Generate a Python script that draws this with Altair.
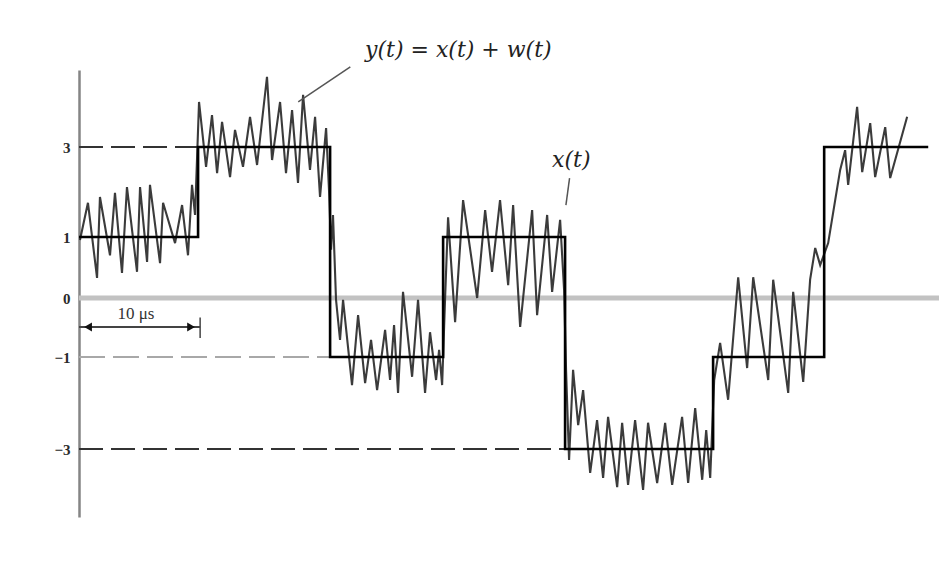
import altair as alt
import pandas as pd

# ---- x(t): 4-level PAM staircase (time in microseconds) ----
symbol_start = [0.0, 9.83, 20.73, 30.06, 40.13, 52.35, 61.52]
symbol_level = [1, 3, -1, 1, -3, -1, 3]
signal_end = 70.11

# ---- y(t) = x(t) + w(t): noisy received waveform ----
noise_t = [0.08, 0.74, 1.49, 1.73, 2.56, 2.97, 3.55, 3.96, 4.79, 5.04,
           5.62, 5.86, 6.69, 6.94, 7.93, 8.51, 9.00, 9.33, 9.58, 9.91,
           10.49, 10.98, 11.40, 11.81, 12.47, 12.88, 13.54, 14.12, 14.70, 15.52,
           15.94, 16.60, 17.09, 17.59, 18.08, 18.50, 19.07, 19.49, 19.90, 20.40,
           20.64, 20.81, 20.97, 21.22, 21.55, 21.80, 22.54, 23.04, 23.62, 24.11,
           24.61, 25.27, 25.68, 26.01, 26.34, 26.75, 27.50, 27.99, 28.57, 28.98,
           29.48, 29.73, 29.98, 30.22, 30.47, 31.05, 31.71, 32.87, 33.53, 34.10,
           34.76, 35.43, 35.84, 36.42, 37.41, 37.82, 38.65, 39.06, 39.72, 40.05,
           40.21, 40.46, 40.79, 41.21, 41.62, 42.20, 42.77, 43.27, 43.68, 44.43,
           44.84, 45.33, 45.91, 46.57, 46.98, 47.73, 48.39, 48.97, 49.79, 50.29,
           50.87, 51.45, 51.78, 52.11, 52.44, 52.93, 53.59, 54.42, 55.16, 55.66,
           56.90, 57.31, 58.55, 58.96, 59.79, 60.36, 60.78, 61.19, 61.85, 62.43,
           62.84, 63.25, 63.50, 64.24, 64.66, 65.32, 65.73, 66.56, 66.97, 68.37]
noise_y = [0.95, 1.76, 0.33, 1.89, 0.70, 1.98, 0.41, 2.11, 0.43, 2.11,
           0.59, 2.16, 0.57, 1.76, 0.90, 1.71, 0.70, 2.16, 1.49, 4.00,
           2.56, 3.71, 2.42, 3.56, 2.33, 3.38, 2.56, 3.67, 2.60, 4.56,
           2.71, 4.00, 2.42, 3.82, 2.20, 4.16, 2.49, 3.67, 1.89, 3.42,
           2.04, 0.79, 1.49, -0.03, -0.71, -0.03, -1.61, -0.29, -1.57, -0.71,
           -1.72, -0.54, -1.50, -0.46, -1.78, 0.10, -1.43, -0.03, -1.78, -0.58,
           -1.50, -0.88, -1.61, -0.03, 1.44, -0.41, 1.82, 0.00, 1.60, 0.43,
           1.82, 0.21, 1.71, -0.49, 1.60, -0.29, 1.49, 0.10, 1.38, 0.13,
           -1.28, -3.24, -1.28, -2.48, -1.72, -3.52, -2.37, -3.63, -2.30, -3.83,
           -2.43, -3.78, -2.37, -3.89, -2.43, -3.74, -2.43, -3.78, -2.30, -3.74,
           -2.11, -3.67, -2.59, -3.63, -1.50, -0.76, -1.93, 0.34, -1.24, 0.34,
           -1.50, 0.30, -1.78, 0.10, -1.54, 0.30, 0.82, 0.54, 0.90, 1.82,
           2.49, 2.93, 2.16, 3.89, 2.44, 3.53, 2.33, 3.44, 2.31, 3.67]

level_ticks = [3, 1, 0, -1, -3]
level_labels = ["3", "1", "0", "\u22121", "\u22123"]
dashed_levels = [3, -1, -3]
scale_mark_us = 10  # the "10 μs" time-scale marker

X_MAX = 71.0
W, H = 860, 562

x_scale = alt.Scale(domain=[0, X_MAX], nice=False, zero=False)
y_scale = alt.Scale(domain=[-4.48, -3, -1, 0, 1, 3, 4.71],
                    range=[509, 441, 349, 290, 229, 139, 62],
                    nice=False, zero=False)

label_expr = "datum.label"
for v, lab in zip(level_ticks, level_labels):
    label_expr = f"datum.value == {v} ? '{lab}' : ({label_expr})"

y_axis = alt.Axis(values=level_ticks, labelExpr=label_expr, ticks=False,
                  grid=False, title=None, domainColor="#858585",
                  domainWidth=2.5, labelFont="Liberation Serif",
                  labelFontSize=15, labelFontWeight="bold",
                  labelColor="#2a2a2a", labelPadding=9)

# staircase table
stair = pd.DataFrame({"t": symbol_start + [signal_end],
                      "x": symbol_level + [symbol_level[-1]]})
noise = pd.DataFrame({"t": noise_t, "y": noise_y})

# dashed guide lines from the axis to where each level is first reached
dash_rows = []
for lvl in dashed_levels:
    dash_rows.append({"lvl": lvl, "t0": 0.0,
                      "t1": symbol_start[symbol_level.index(lvl)]})
dash_df = pd.DataFrame(dash_rows)

X = lambda f: alt.X(f, type="quantitative", scale=x_scale, axis=None)
Y = lambda f: alt.Y(f, type="quantitative", scale=y_scale, axis=y_axis)

zero_line = alt.Chart(pd.DataFrame({"a": [0.0], "b": [X_MAX], "y": [0]})).mark_rule(
    color="#c2c2c2", strokeWidth=5).encode(x=X("a"), x2="b", y=Y("y"))

dash_dark = alt.Chart(dash_df[dash_df.lvl != -1]).mark_rule(
    color="#333333", strokeWidth=2, strokeDash=[24, 8]).encode(
    x=X("t0"), x2="t1", y=Y("lvl"))
dash_light = alt.Chart(dash_df[dash_df.lvl == -1]).mark_rule(
    color="#a8a8a8", strokeWidth=2, strokeDash=[26, 8]).encode(
    x=X("t0"), x2="t1", y=Y("lvl"))

noise_line = alt.Chart(noise).mark_line(
    color="#262626", strokeWidth=2.1, opacity=0.9, strokeJoin="miter").encode(
    x=X("t"), y=Y("y"))

stair_line = alt.Chart(stair).mark_line(
    color="#000000", strokeWidth=2.6, interpolate="step-after").encode(
    x=X("t"), y=Y("x"))

# 10 μs marker
marker_df = pd.DataFrame({"a": [0.0], "b": [float(scale_mark_us)], "y": [-0.49]})
marker_line = alt.Chart(marker_df).mark_rule(color="#444444", strokeWidth=2).encode(
    x=X("a"), x2="b", y=Y("y"))
marker_tick = alt.Chart(pd.DataFrame({"a": [float(scale_mark_us)], "y1": [-0.33], "y2": [-0.68]})).mark_rule(
    color="#444444", strokeWidth=1.5).encode(x=X("a"), y=Y("y1"), y2="y2")
arrows = alt.Chart(pd.DataFrame({"t": [0.75, scale_mark_us - 0.75], "y": [-0.49, -0.49],
                                 "s": ["triangle-left", "triangle-right"]})).mark_point(
    filled=True, color="#111111", size=80, opacity=1).encode(
    x=X("t"), y=Y("y"), shape=alt.Shape("s:N", scale=None, legend=None))
marker_text = alt.Chart(pd.DataFrame({"t": [scale_mark_us / 2 - 0.3], "y": [-0.27],
                                      "txt": ["10  \u03bcs"]})).mark_text(
    font="Liberation Serif", fontSize=17, color="#333333",
    baseline="middle").encode(x=X("t"), y=Y("y"), text="txt:N")

# annotations
ann_df = pd.DataFrame({"t": [23.62, 39.06], "y": [5.16, 2.71],
                       "txt": ["y(t)  =  x(t) + w(t)", "x(t)"]})
ann_text = alt.Chart(ann_df).mark_text(
    font="DejaVu Serif", fontStyle="italic", fontSize=22, color="#222222",
    align="left", baseline="middle").encode(x=X("t"), y=Y("y"), text="txt:N")
lead_df = pd.DataFrame({"t1": [22.4, 40.5], "y1": [4.78, 2.31],
                        "t2": [18.1, 40.2], "y2": [4.0, 1.71]})
leaders = alt.Chart(lead_df).mark_rule(color="#555555", strokeWidth=1.5).encode(
    x=X("t1"), y=Y("y1"), x2="t2", y2="y2")

chart = alt.layer(
    zero_line, dash_dark, dash_light, noise_line, stair_line,
    marker_line, marker_tick, arrows, marker_text, leaders, ann_text
).properties(
    width=W, height=H,
    autosize=alt.AutoSizeParams(type="none"),
    padding={"left": 71, "top": 0, "right": 0, "bottom": 0},
    background="white",
).configure_view(stroke=None)

chart.save("out.html", embed_options={"renderer": "svg", "actions": False})
